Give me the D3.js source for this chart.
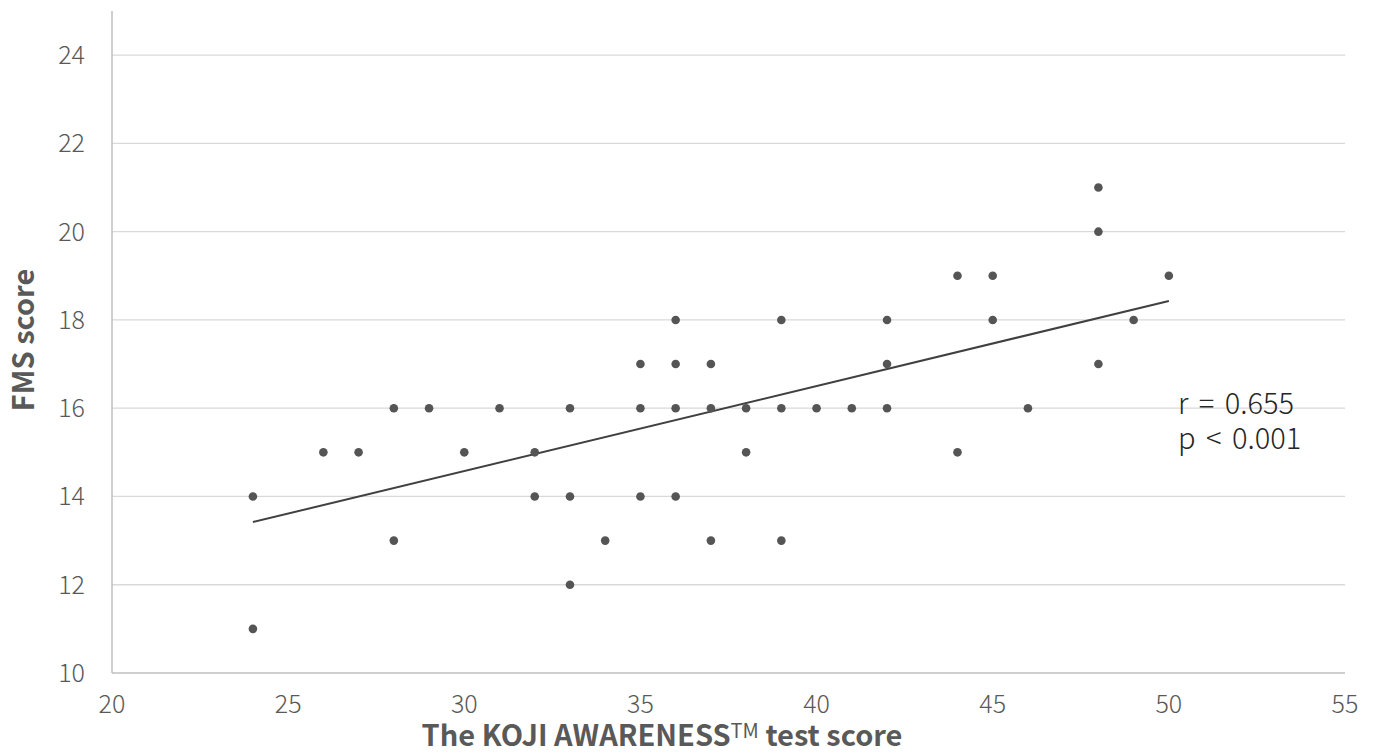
<!DOCTYPE html>
<html>
<head>
<meta charset="utf-8">
<script src="https://cdn.jsdelivr.net/npm/d3@7"></script>
<style>
  body { margin: 0; background: #fff; }
  svg { display: block; font-family: "Noto Sans CJK JP", "Noto Sans", sans-serif; }
  .tick-label { fill: #595959; font-size: 25px; font-weight: 300; }
  .axis-title { fill: #595959; font-size: 29px; font-weight: bold; }
  .stats { fill: #262626; font-size: 29px; font-weight: 300; word-spacing: 4px; }
</style>
</head>
<body>
<svg id="chart"></svg>
<script>
// KOJI AWARENESS test score (x) vs FMS score (y)
const kojiScores = [
  24, 24, 26, 27, 28, 28, 29, 30, 31, 32, 32, 33, 33, 33, 34,
  35, 35, 35, 36, 36, 36, 36, 37, 37, 37, 38, 38, 39, 39, 39,
  40, 41, 42, 42, 42, 44, 44, 45, 45, 46, 48, 48, 48, 49, 50,
];
const fmsScores = [
  14, 11, 15, 15, 16, 13, 16, 15, 16, 15, 14, 16, 14, 12, 13,
  17, 16, 14, 18, 17, 16, 14, 17, 16, 13, 16, 15, 18, 16, 13,
  16, 16, 18, 17, 16, 19, 15, 19, 18, 16, 21, 20, 17, 18, 19,
];

// trend line endpoints
const trendX = [24, 50];
const trendY = [13.42, 18.43];

const xTicks = [20, 25, 30, 35, 40, 45, 50, 55];
const yTicks = [10, 12, 14, 16, 18, 20, 22, 24];
const statLines = ["r = 0.655", "p < 0.001"];

const WIDTH = 1376;
const HEIGHT = 753;

const svg = d3.select("#chart").attr("width", WIDTH).attr("height", HEIGHT);

const xScale = d3.scaleLinear().domain([20, 55]).range([112, 1345]);
const yScale = d3.scaleLinear().domain([10, 25]).range([673, 11]);

// gridlines
svg
  .append("g")
  .selectAll("line")
  .data(yTicks.filter((d) => d > 10))
  .join("line")
  .attr("x1", xScale(20))
  .attr("x2", xScale(55))
  .attr("y1", (d) => yScale(d))
  .attr("y2", (d) => yScale(d))
  .attr("stroke", "#d9d9d9")
  .attr("stroke-width", 1.3);

// axis lines
svg
  .append("line")
  .attr("x1", xScale(20))
  .attr("x2", xScale(20))
  .attr("y1", yScale(25))
  .attr("y2", yScale(10))
  .attr("stroke", "#bfbfbf")
  .attr("stroke-width", 1.5);

svg
  .append("line")
  .attr("x1", xScale(20))
  .attr("x2", xScale(55))
  .attr("y1", yScale(10))
  .attr("y2", yScale(10))
  .attr("stroke", "#bfbfbf")
  .attr("stroke-width", 1.5);

// tick labels
svg
  .append("g")
  .selectAll("text")
  .data(yTicks)
  .join("text")
  .attr("class", "tick-label")
  .attr("x", 85)
  .attr("y", (d) => yScale(d))
  .attr("dy", "0.36em")
  .attr("text-anchor", "end")
  .text((d) => d);

svg
  .append("g")
  .selectAll("text")
  .data(xTicks)
  .join("text")
  .attr("class", "tick-label")
  .attr("x", (d) => xScale(d))
  .attr("y", 713)
  .attr("text-anchor", "middle")
  .text((d) => d);

// trend line
svg
  .append("line")
  .attr("x1", xScale(trendX[0]))
  .attr("x2", xScale(trendX[1]))
  .attr("y1", yScale(trendY[0]))
  .attr("y2", yScale(trendY[1]))
  .attr("stroke", "#404040")
  .attr("stroke-width", 2);

// points
svg
  .append("g")
  .selectAll("circle")
  .data(kojiScores.map((x, i) => [x, fmsScores[i]]))
  .join("circle")
  .attr("cx", (d) => xScale(d[0]))
  .attr("cy", (d) => yScale(d[1]))
  .attr("r", 4.3)
  .attr("fill", "#555555");

// axis titles
const xTitle = svg
  .append("text")
  .attr("class", "axis-title")
  .attr("x", 662)
  .attr("y", 746)
  .attr("text-anchor", "middle");
xTitle.append("tspan").text("The KOJI AWARENESS");
xTitle.append("tspan").attr("font-size", "20px").attr("font-weight", "normal").attr("dy", "-8").text("TM");
xTitle.append("tspan").attr("dy", "8").text(" test score");

svg
  .append("text")
  .attr("class", "axis-title")
  .attr("transform", "translate(34, 340) rotate(-90)")
  .attr("text-anchor", "middle")
  .text("FMS score");

// correlation stats
svg
  .append("g")
  .selectAll("text")
  .data(statLines)
  .join("text")
  .attr("class", "stats")
  .attr("x", 1178)
  .attr("y", (d, i) => 414 + i * 35)
  .text((d) => d);
</script>
</body>
</html>
